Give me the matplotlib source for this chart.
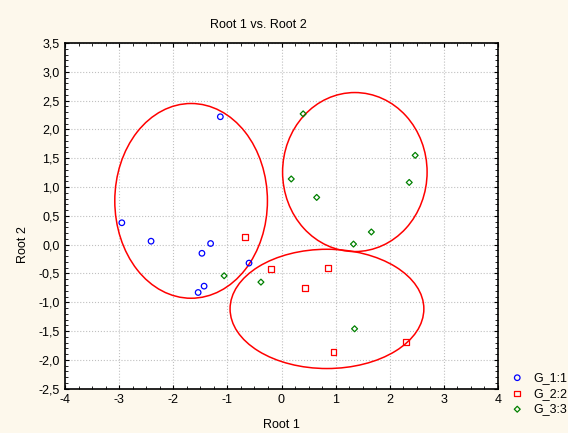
import matplotlib
matplotlib.use("Agg")
import matplotlib.pyplot as plt
from matplotlib.patches import Ellipse
from matplotlib.ticker import MultipleLocator, FuncFormatter

plt.rcParams['font.family'] = ['Liberation Sans', 'DejaVu Sans']

# Data
g1_x = [-1.13, -2.95, -2.41, -1.31, -1.47, -0.60, -1.43, -1.54]
g1_y = [2.22, 0.38, 0.06, 0.02, -0.15, -0.32, -0.72, -0.83]
g2_x = [-0.68, -0.20, 0.44, 0.86, 0.96, 2.30]
g2_y = [0.13, -0.43, -0.75, -0.41, -1.87, -1.69]
g3_x = [0.40, 0.18, 0.65, 2.47, 2.36, 1.66, 1.33, 1.35, -1.06, -0.38]
g3_y = [2.27, 1.14, 0.82, 1.55, 1.08, 0.22, 0.01, -1.46, -0.54, -0.65]
labels = ["G_1:1", "G_2:2", "G_3:3"]
# Ellipses: center x, center y, width, height
ell_cx = [-1.67, 1.355, 0.84]
ell_cy = [0.76, 1.26, -1.115]
ell_w = [2.82, 2.67, 3.58]
ell_h = [3.38, 2.76, 2.07]

bg = '#fdf8ec'
fig = plt.figure(figsize=(5.68, 4.33), dpi=100, facecolor=bg)
ax = fig.add_axes([65/568, 1-388.7/433, (498-65)/568, (388.7-43)/433])
ax.set_facecolor('white')

ax.scatter(g1_x, g1_y, s=16, marker='o', facecolors='none', edgecolors='blue', linewidths=0.9, label=labels[0], zorder=3)
ax.scatter(g2_x, g2_y, s=18, marker='s', facecolors='none', edgecolors='red', linewidths=0.9, label=labels[1], zorder=3)
ax.scatter(g3_x, g3_y, s=9, marker='D', facecolors='none', edgecolors='green', linewidths=0.9, label=labels[2], zorder=3)

for cx, cy, w, h in zip(ell_cx, ell_cy, ell_w, ell_h):
    ax.add_patch(Ellipse((cx, cy), w, h, fill=False, edgecolor='red', linewidth=1.1, zorder=2))

ax.set_xlim(-4, 4)
ax.set_ylim(-2.5, 3.5)
ax.xaxis.set_major_locator(MultipleLocator(1))
ax.xaxis.set_minor_locator(MultipleLocator(0.25))
ax.yaxis.set_major_locator(MultipleLocator(0.5))
ax.yaxis.set_minor_locator(MultipleLocator(0.1))
ax.yaxis.set_major_formatter(FuncFormatter(lambda v, p: f"{v:.1f}".replace('.', ',').replace('-0,0', '0,0')))
ax.xaxis.set_major_formatter(FuncFormatter(lambda v, p: f"{int(round(v))}"))
ax.grid(True, which='major', color='#c0c0c0', linestyle=':', linewidth=0.8)
ax.tick_params(which='both', direction='in', top=True, right=True, labelsize=9, colors='black')
ax.tick_params(which='major', length=3, width=0.8, pad=4)
ax.tick_params(which='minor', length=2, width=0.6)
for s in ax.spines.values():
    s.set_linewidth(1.2)

fig.text(258/568, 1-25/433, "Root 1 vs. Root 2", ha='center', va='center', fontsize=9)
fig.text(281/568, 1-425/433, "Root 1", ha='center', va='center', fontsize=9)
fig.text(23/568, 1-245/433, "Root 2", ha='center', va='center', rotation=90, fontsize=9)

leg = fig.legend(loc='upper left', bbox_to_anchor=(506/568, 1-367/433), frameon=False,
                 fontsize=9, handletextpad=0.8, borderaxespad=0, labelspacing=0.3,
                 handlelength=1.0, scatterpoints=1)

fig.savefig("out.png", dpi=100, facecolor=bg)
